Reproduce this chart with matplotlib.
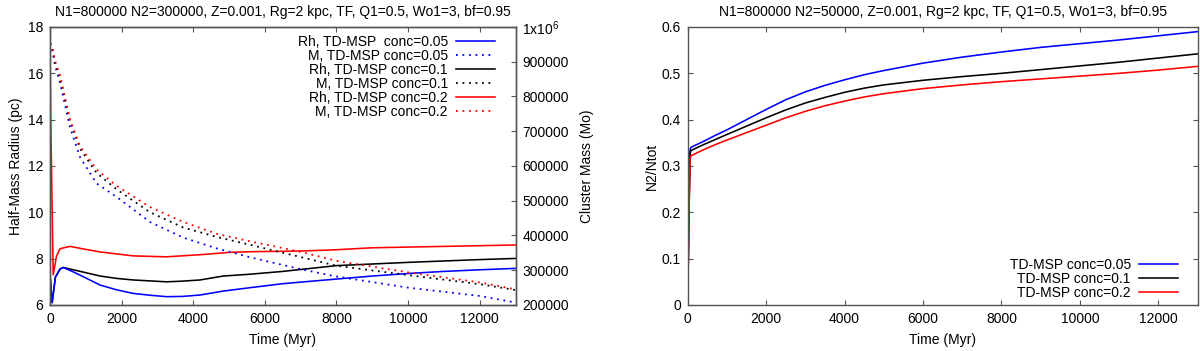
import matplotlib
matplotlib.use('Agg')
import matplotlib.pyplot as plt
from matplotlib.ticker import FuncFormatter, MultipleLocator

plt.rcParams['font.family'] = ['Liberation Sans', 'DejaVu Sans']
plt.rcParams['mathtext.fontset'] = 'custom'
plt.rcParams['mathtext.rm'] = 'Liberation Sans'

# ---- left panel: half-mass radius (pc) ----
t_rh_red = [0, 20, 90, 180, 280, 560, 1000, 1400, 2325, 3255, 4185, 5000, 5600, 7000, 7930, 9000, 10000, 11000, 12000, 13000]
rh_red = [17.3, 14.0, 7.3, 8.1, 8.43, 8.53, 8.4, 8.29, 8.12, 8.08, 8.17, 8.27, 8.30, 8.33, 8.38, 8.47, 8.50, 8.53, 8.56, 8.59]

t_rh = [0, 60, 150, 280, 370, 650, 930, 1400, 1850, 2325, 2800, 3255, 3700, 4185, 4836, 5600, 6500, 8000, 9000, 10000, 11000, 12000, 13000]
rh_black = [7.3, 6.1, 7.2, 7.55, 7.62, 7.52, 7.42, 7.25, 7.15, 7.08, 7.04, 7.0, 7.03, 7.08, 7.25, 7.33, 7.45, 7.70, 7.77, 7.84, 7.90, 7.96, 8.01]
rh_blue = [7.3, 6.1, 7.2, 7.55, 7.62, 7.43, 7.22, 6.86, 6.66, 6.5, 6.42, 6.36, 6.37, 6.43, 6.6, 6.75, 6.92, 7.12, 7.25, 7.36, 7.45, 7.52, 7.58]

# ---- left panel: cluster mass (Mo) ----
t_mass = [0, 50, 150, 280, 560, 840, 1300, 1860, 2790, 3720, 4650, 5600, 7000, 8000, 10000, 12000, 13000]
mass_red = [953000, 947000, 900000, 860000, 733000, 657000, 590000, 543000, 482000, 439000, 405000,
            383000, 353000, 327000, 294000, 265000, 245000]
mass_black = [953000, 945000, 895000, 855000, 728000, 650000, 580000, 533000, 467000, 423000, 396000,
              373000, 338000, 313000, 286000, 260000, 243000]
mass_blue = [953000, 940000, 885000, 840000, 711000, 625000, 550000, 511000, 439000, 394000, 363000,
             337000, 303000, 282000, 250000, 226000, 207000]

# ---- right panel: N2/Ntot ----
t_frac = [0, 30, 60, 80, 200, 400, 700, 1000, 1500, 2000, 2500, 3000, 3500, 4000, 4500, 5000,
          6000, 7000, 8000, 9000, 10000, 11000, 12000, 13000]
frac_blue = [0, 0.20, 0.335, 0.340, 0.345, 0.353, 0.366, 0.378, 0.400, 0.422, 0.443, 0.460, 0.474, 0.486,
             0.497, 0.506, 0.522, 0.535, 0.546, 0.556, 0.564, 0.572, 0.581, 0.590]
frac_black = [0, 0.19, 0.325, 0.333, 0.338, 0.346, 0.357, 0.368, 0.386, 0.404, 0.421, 0.436, 0.448, 0.459,
              0.468, 0.475, 0.485, 0.493, 0.500, 0.508, 0.516, 0.524, 0.533, 0.542]
frac_red = [0, 0.18, 0.315, 0.322, 0.327, 0.335, 0.346, 0.356, 0.372, 0.388, 0.404, 0.418, 0.430, 0.440,
            0.449, 0.456, 0.467, 0.475, 0.482, 0.488, 0.494, 0.500, 0.507, 0.515]

title_left = 'N1=800000 N2=300000, Z=0.001, Rg=2 kpc, TF, Q1=0.5, Wo1=3, bf=0.95'
title_right = 'N1=800000 N2=50000, Z=0.001, Rg=2 kpc, TF, Q1=0.5, Wo1=3, bf=0.95'

FS = 10
SPINE = '#555555'
LW = 1.15
dotted = (0, (1, 2.6))


def style(ax, top=True, right=True):
	for s in ax.spines.values():
		s.set_color(SPINE)
		s.set_linewidth(1.0)
	ax.tick_params(direction='in', length=3.5, width=0.8, color=SPINE,
				   labelsize=FS, top=top, right=right, pad=5)


fig = plt.figure(figsize=(12, 3.51), dpi=100)

# left
ax = fig.add_axes([50 / 1200, 1 - 305 / 351, 465.5 / 1200, 278 / 351])
l1, = ax.plot(t_rh_red, rh_red, color='red', lw=LW)
l2, = ax.plot(t_rh, rh_black, color='black', lw=LW)
l3, = ax.plot(t_rh, rh_blue, color='blue', lw=LW)
ax.set_xlim(0, 13000)
ax.set_ylim(6, 18)
ax.xaxis.set_major_locator(MultipleLocator(2000))
ax.yaxis.set_major_locator(MultipleLocator(2))
style(ax, top=True, right=False)
ax.set_xlabel('Time (Myr)', fontsize=FS, labelpad=5)
ax.set_ylabel('Half-Mass Radius (pc)', fontsize=FS, labelpad=3)
ax.set_title(title_left, fontsize=FS, pad=8)

ax2 = ax.twinx()
m1, = ax2.plot(t_mass, mass_blue, color='blue', lw=1.3, ls=dotted)
m2, = ax2.plot(t_mass, mass_black, color='black', lw=1.3, ls=dotted)
m3, = ax2.plot(t_mass, mass_red, color='red', lw=1.3, ls=dotted)
ax2.set_ylim(200000, 1000000)
ax2.yaxis.set_major_locator(MultipleLocator(100000))
ax2.yaxis.set_major_formatter(FuncFormatter(
	lambda v, p: r'1x10$^{6}$' if v >= 999999 else '%d' % v))
style(ax2, top=True, right=True)
ax2.tick_params(left=False)
ax2.set_ylabel('Cluster Mass (Mo)', fontsize=FS, labelpad=8)

ax2.legend([l3, m1, l2, m2, l1, m3],
		   ['Rh, TD-MSP  conc=0.05', 'M, TD-MSP conc=0.05',
			'Rh, TD-MSP conc=0.1', 'M, TD-MSP conc=0.1',
			'Rh, TD-MSP conc=0.2', 'M, TD-MSP conc=0.2'],
		   loc='upper right', bbox_to_anchor=(0.977, 1.005), frameon=False,
		   markerfirst=False, fontsize=FS, labelspacing=0.0,
		   handlelength=2.8, handletextpad=0.6, borderpad=0.2)

# right
axr = fig.add_axes([687.7 / 1200, 1 - 305 / 351, 509.8 / 1200, 278 / 351])
axr.plot(t_frac, frac_blue, color='blue', lw=LW, label='TD-MSP conc=0.05')
axr.plot(t_frac, frac_black, color='black', lw=LW, label='TD-MSP conc=0.1')
axr.plot(t_frac, frac_red, color='red', lw=LW, label='TD-MSP conc=0.2')
axr.set_xlim(0, 13000)
axr.set_ylim(0, 0.6)
axr.xaxis.set_major_locator(MultipleLocator(2000))
axr.yaxis.set_major_locator(MultipleLocator(0.1))
axr.yaxis.set_major_formatter(FuncFormatter(lambda v, p: '%g' % round(v, 2)))
style(axr, top=True, right=True)
axr.set_xlabel('Time (Myr)', fontsize=FS, labelpad=5)
axr.set_ylabel('N2/Ntot', fontsize=FS, labelpad=2)
axr.set_title(title_right, fontsize=FS, pad=8)
axr.legend(loc='lower right', bbox_to_anchor=(0.981, -0.016), frameon=False,
		   markerfirst=False, fontsize=FS, labelspacing=0.0,
		   handlelength=2.8, handletextpad=0.6, borderpad=0.2)

fig.savefig('out.png', dpi=100)
